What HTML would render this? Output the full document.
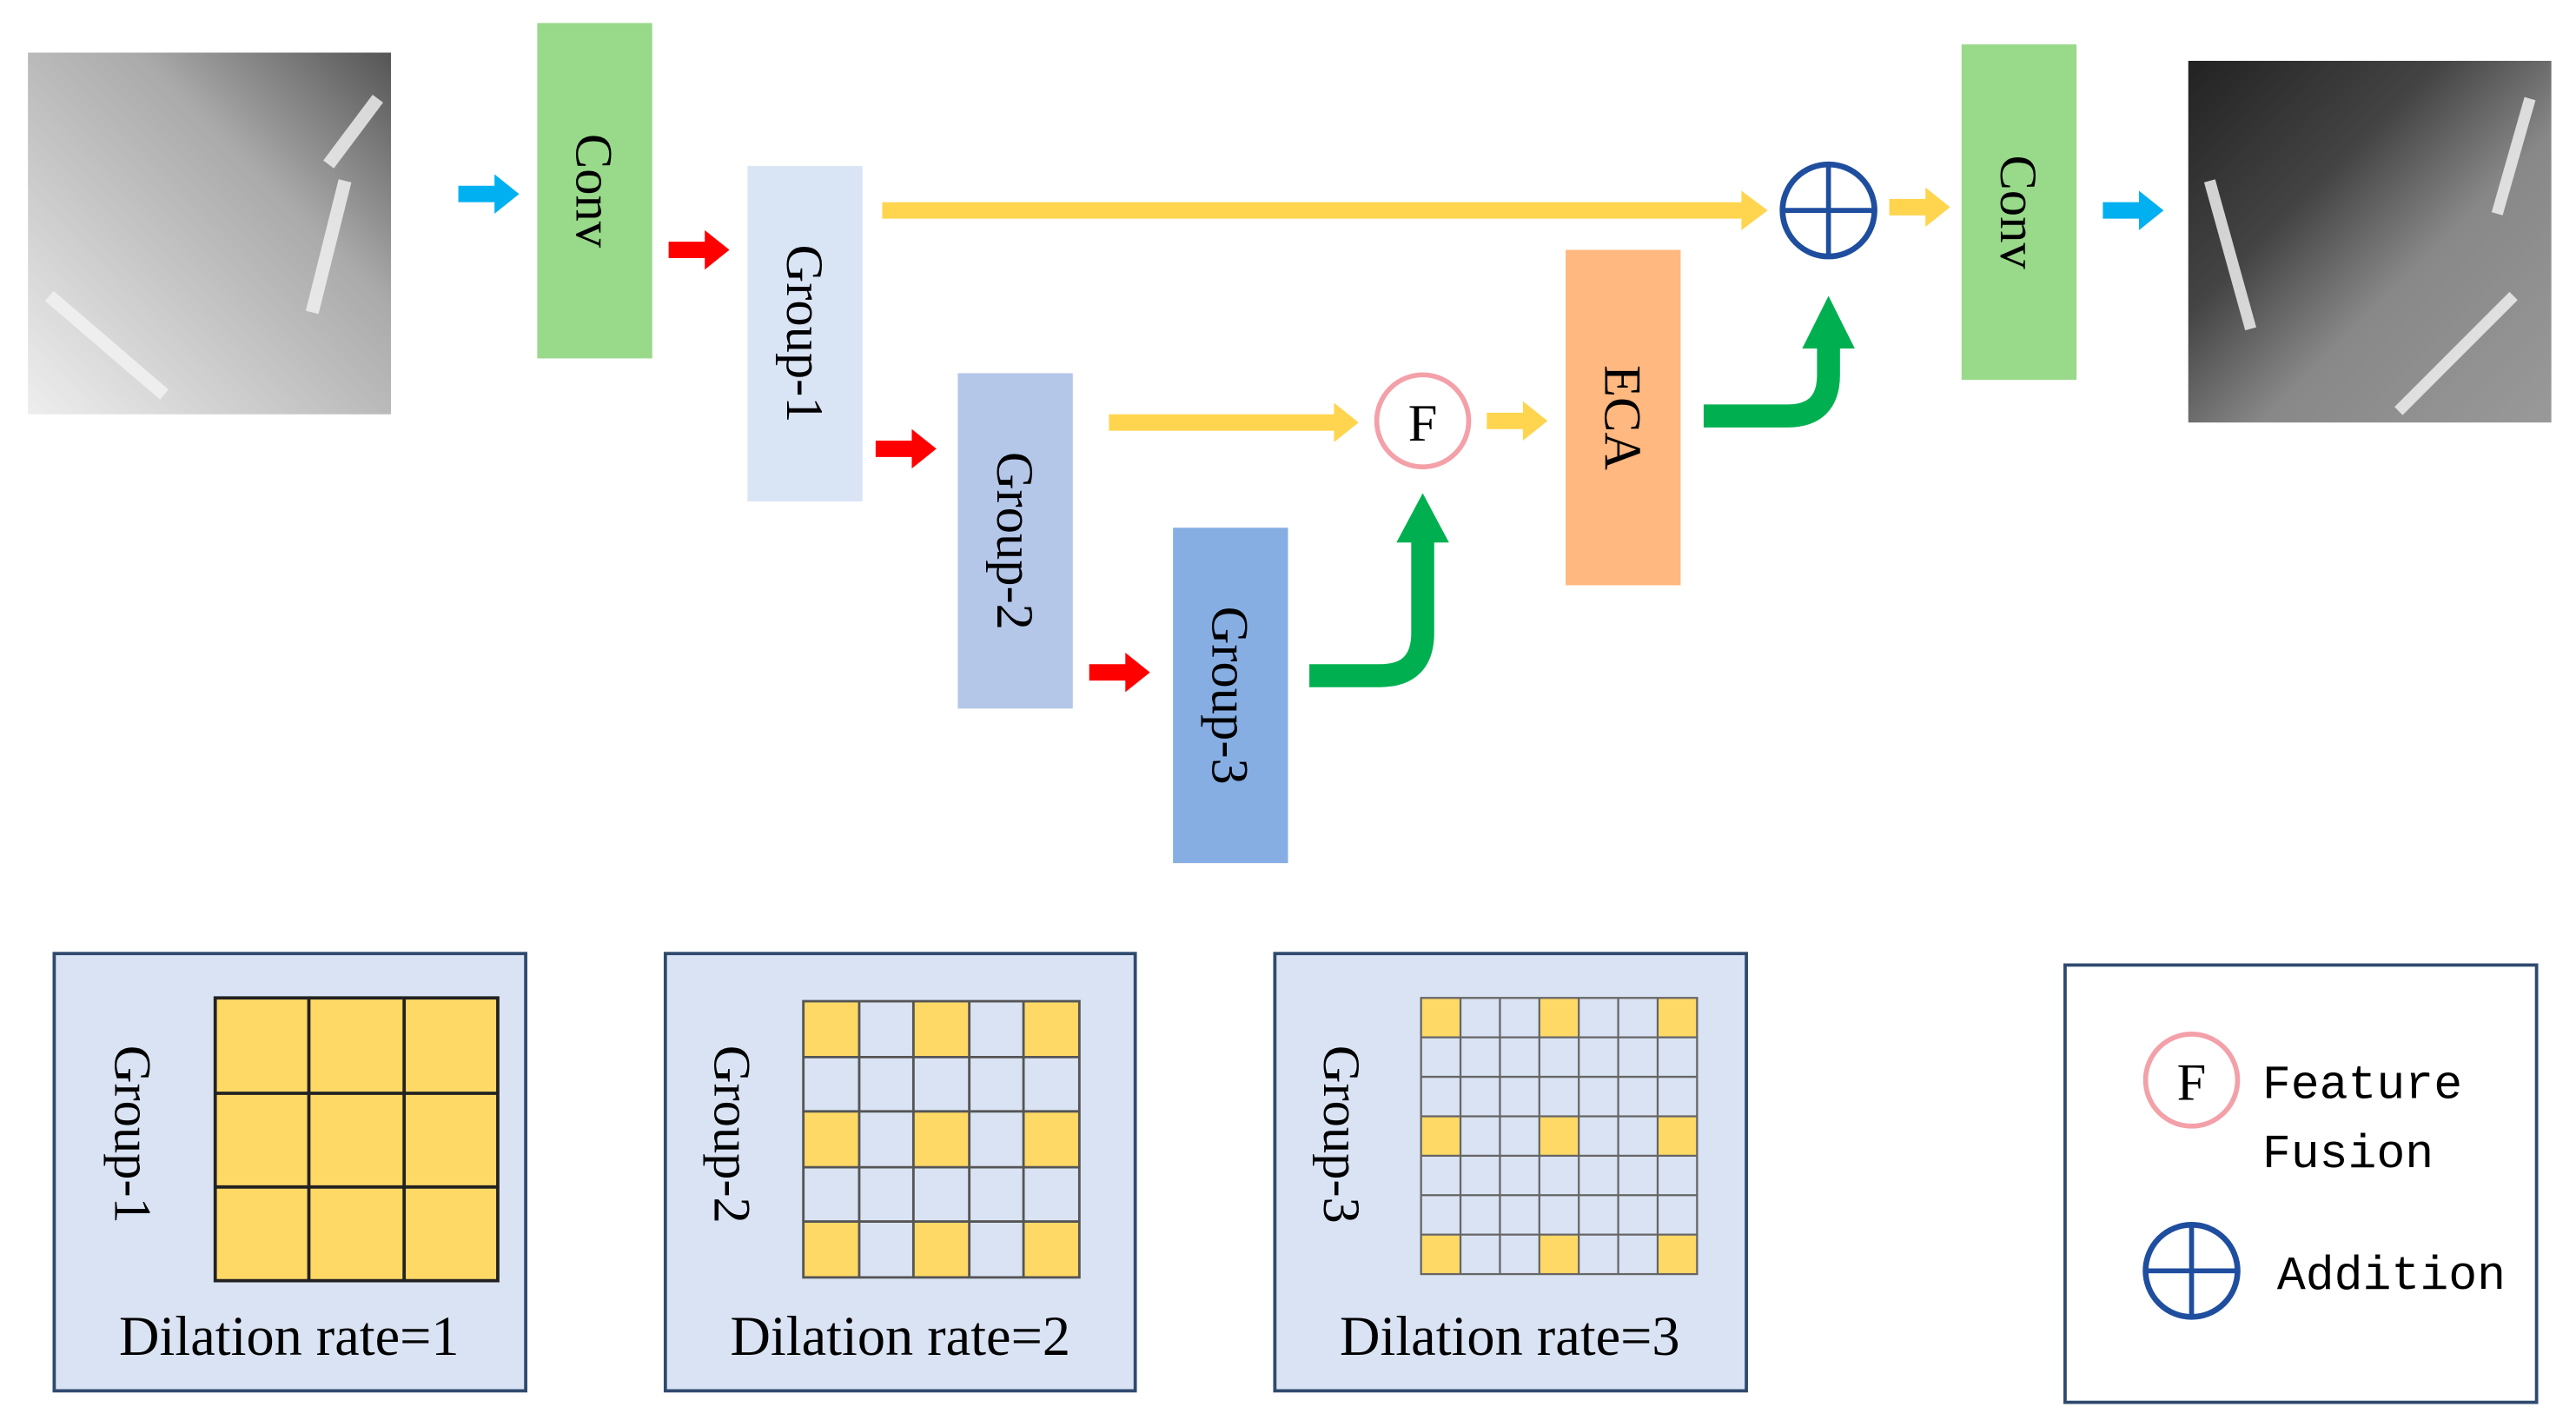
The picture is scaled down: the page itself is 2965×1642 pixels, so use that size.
<!DOCTYPE html>
<html><head><meta charset="utf-8"><style>html,body{margin:0;padding:0;background:#fff}svg{display:block}</style></head><body>
<svg width="2965" height="1642" viewBox="0 0 1568 868" preserveAspectRatio="none" xmlns="http://www.w3.org/2000/svg" font-family="Liberation Serif, serif">
<defs>
<linearGradient id="g1" x1="1" y1="0" x2="0" y2="1"><stop offset="0" stop-color="#555"/><stop offset="0.35" stop-color="#aaa"/><stop offset="1" stop-color="#eee"/></linearGradient>
<linearGradient id="g2" x1="0" y1="0" x2="1" y2="1"><stop offset="0" stop-color="#222"/><stop offset="0.35" stop-color="#444"/><stop offset="0.6" stop-color="#888"/><stop offset="1" stop-color="#999"/></linearGradient>
</defs>
<rect x="17" y="32" width="221" height="220" fill="url(#g1)"/>
<g stroke="#f4f4f4" stroke-width="8" opacity="0.8"><line x1="30" y1="180" x2="100" y2="240"/><line x1="200" y1="100" x2="230" y2="60"/><line x1="210" y1="110" x2="190" y2="190"/></g>
<rect x="1332" y="37" width="221" height="220" fill="url(#g2)"/>
<g stroke="#eee" stroke-width="7" opacity="0.85"><line x1="1345" y1="110" x2="1370" y2="200"/><line x1="1460" y1="250" x2="1530" y2="180"/><line x1="1540" y1="60" x2="1520" y2="130"/></g>
<g>
<path d="M279,113h22v-7l15,12l-15,12v-7h-22z" fill="#00B0F0"/>
<path d="M1280,123h22v-7l15,12l-15,12v-7h-22z" fill="#00B0F0"/>
<path d="M407,147h22v-7l15,12l-15,12v-7h-22z" fill="#FF0000"/>
<path d="M533,268h22v-7l15,12l-15,12v-7h-22z" fill="#FF0000"/>
<path d="M663,404h22v-7l15,12l-15,12v-7h-22z" fill="#FF0000"/>
<path d="M1150,121h22v-7l15,12l-15,12v-7h-22z" fill="#FFD54F"/>
<path d="M905,251h22v-7l15,12l-15,12v-7h-22z" fill="#FFD54F"/>
</g>
<rect x="537" y="123" width="526" height="10" fill="#FFD54F"/><path d="M1060,116l16,12l-16,12z" fill="#FFD54F"/>
<rect x="675" y="252" width="140" height="10" fill="#FFD54F"/><path d="M812,245l15,12l-15,12z" fill="#FFD54F"/>
<rect x="327" y="14" width="70" height="204" fill="#98D98A"/>
<rect x="455" y="101" width="70" height="204" fill="#D9E4F5"/>
<rect x="583" y="227" width="70" height="204" fill="#B4C7E9"/>
<rect x="714" y="321" width="70" height="204" fill="#87AEE3"/>
<rect x="953" y="152" width="70" height="204" fill="#FFB880"/>
<rect x="1194" y="27" width="70" height="204" fill="#98D98A"/>
<g font-size="32" fill="#000" text-anchor="middle">
<text transform="translate(351,116) rotate(90)">Conv</text>
<text transform="translate(479,203) rotate(90)">Group-1</text>
<text transform="translate(607,329) rotate(90)">Group-2</text>
<text transform="translate(738,423) rotate(90)">Group-3</text>
<text transform="translate(977,254) rotate(90)">ECA</text>
<text transform="translate(1218,129) rotate(90)">Conv</text>
</g>
<path d="M797,411H840Q866,411 866,385V325" fill="none" stroke="#00B050" stroke-width="14"/>
<path d="M850,330l16,-30l16,30z" fill="#00B050"/>
<path d="M1037,253H1088Q1113,253 1113,228V210" fill="none" stroke="#00B050" stroke-width="14"/>
<path d="M1097,212l16,-32l16,32z" fill="#00B050"/>
<circle cx="1113" cy="128" r="28" fill="#fff" stroke="#1F4E9F" stroke-width="3.5"/>
<line x1="1085" y1="128" x2="1141" y2="128" stroke="#1F4E9F" stroke-width="3"/><line x1="1113" y1="100" x2="1113" y2="156" stroke="#1F4E9F" stroke-width="3"/>
<circle cx="866" cy="256" r="28" fill="#fff" stroke="#F4A0A8" stroke-width="3"/>
<text x="866" y="268" font-size="32" text-anchor="middle">F</text>
<g fill="#DAE3F3" stroke="#2F4A6E" stroke-width="2">
<rect x="33" y="580" width="287" height="266"/>
<rect x="405" y="580" width="286" height="266"/>
<rect x="776" y="580" width="287" height="266"/>
</g>
<rect x="1257" y="587" width="287" height="266" fill="#fff" stroke="#2F4A6E" stroke-width="2"/>
<rect x="131" y="607" width="172" height="172" fill="#FFD966" stroke="#222" stroke-width="2"/>
<g stroke="#222" stroke-width="2"><line x1="188" y1="607" x2="188" y2="779"/><line x1="246" y1="607" x2="246" y2="779"/><line x1="131" y1="665" x2="303" y2="665"/><line x1="131" y1="722" x2="303" y2="722"/></g>
<g fill="#FFD966">
<rect x="489" y="609" width="168" height="168" fill="#DAE3F3"/>
<rect x="489" y="609" width="34" height="34"/><rect x="556" y="609" width="34" height="34"/><rect x="623" y="609" width="34" height="34"/>
<rect x="489" y="676" width="34" height="34"/><rect x="556" y="676" width="34" height="34"/><rect x="623" y="676" width="34" height="34"/>
<rect x="489" y="743" width="34" height="34"/><rect x="556" y="743" width="34" height="34"/><rect x="623" y="743" width="34" height="34"/>
</g>
<g stroke="#555" stroke-width="1.5" fill="none"><rect x="489" y="609" width="168" height="168"/>
<path d="M523,609V777M556,609V777M590,609V777M623,609V777M489,643H657M489,676H657M489,710H657M489,743H657"/></g>
<rect x="865" y="607" width="168" height="168" fill="#DAE3F3"/>
<g fill="#FFD966">
<rect x="865" y="607" width="24" height="24"/><rect x="937" y="607" width="24" height="24"/><rect x="1009" y="607" width="24" height="24"/>
<rect x="865" y="679" width="24" height="24"/><rect x="937" y="679" width="24" height="24"/><rect x="1009" y="679" width="24" height="24"/>
<rect x="865" y="751" width="24" height="24"/><rect x="937" y="751" width="24" height="24"/><rect x="1009" y="751" width="24" height="24"/>
</g>
<g stroke="#666" stroke-width="1.2" fill="none"><rect x="865" y="607" width="168" height="168"/>
<path d="M889,607V775M913,607V775M937,607V775M961,607V775M985,607V775M1009,607V775M865,631H1033M865,655H1033M865,679H1033M865,703H1033M865,727H1033M865,751H1033"/></g>
<g font-size="32" text-anchor="middle">
<text transform="translate(70,690) rotate(90)">Group-1</text>
<text transform="translate(435,690) rotate(90)">Group-2</text>
<text transform="translate(806,690) rotate(90)">Group-3</text>
</g>
<g font-size="34" text-anchor="middle">
<text x="176" y="824">Dilation rate=1</text>
<text x="548" y="824">Dilation rate=2</text>
<text x="919" y="824">Dilation rate=3</text>
</g>
<circle cx="1334" cy="657" r="28" fill="#fff" stroke="#F4A0A8" stroke-width="3"/>
<text x="1334" y="669" font-size="32" text-anchor="middle">F</text>
<circle cx="1334" cy="773" r="28" fill="#fff" stroke="#1F4E9F" stroke-width="3.5"/>
<line x1="1306" y1="773" x2="1362" y2="773" stroke="#1F4E9F" stroke-width="3"/><line x1="1334" y1="745" x2="1334" y2="801" stroke="#1F4E9F" stroke-width="3"/>
<g font-family="Liberation Mono, monospace" font-size="29">
<text x="1377" y="668">Feature</text>
<text x="1377" y="710">Fusion</text>
<text x="1386" y="784">Addition</text>
</g>
</svg>
</body></html>
